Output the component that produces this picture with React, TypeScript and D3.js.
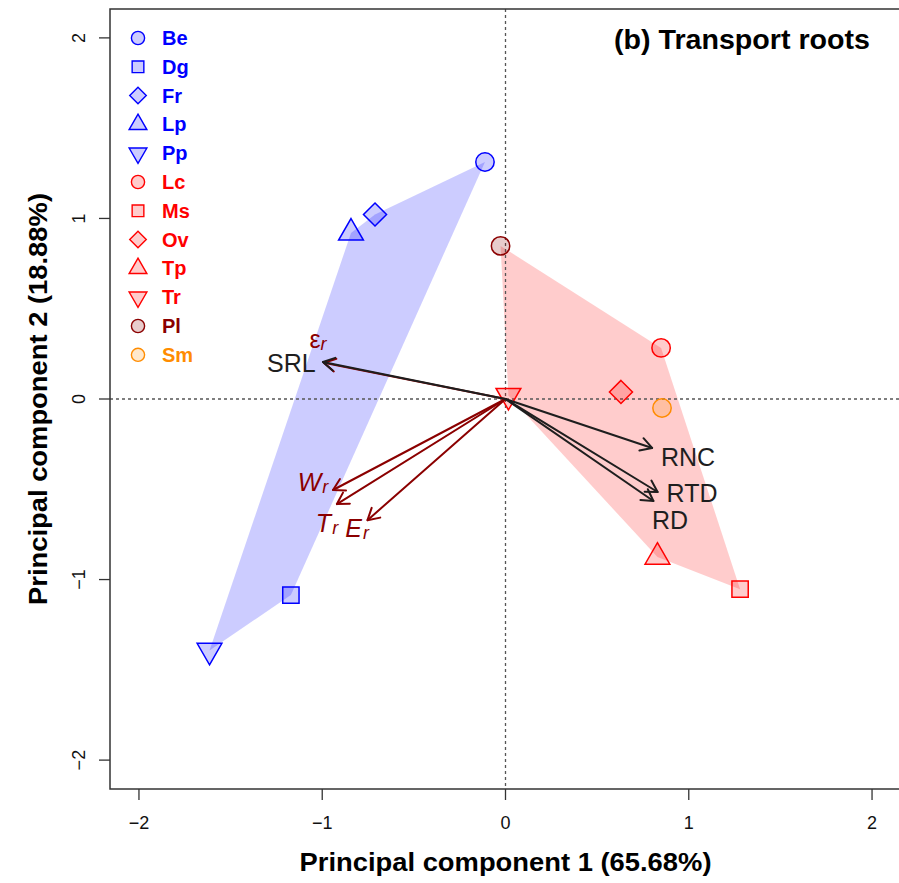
import React from "react";
import * as d3 from "d3";

// ---- Data ----
const species = ["Be", "Dg", "Fr", "Lp", "Pp", "Lc", "Ms", "Ov", "Tp", "Tr", "Pl", "Sm"];
const pc1 = [-0.112, -1.171, -0.712, -0.843, -1.615, 0.849, 1.28, 0.63, 0.829, 0.016, -0.027, 0.854];
const pc2 = [1.313, -1.086, 1.022, 0.92, -1.393, 0.283, -1.053, 0.039, -0.875, 0.019, 0.848, -0.05];
const shapes = ["circle", "square", "diamond", "triUp", "triDown", "circle", "square", "diamond", "triUp", "triDown", "circle", "circle"];
const speciesGroup = ["A", "A", "A", "A", "A", "B", "B", "B", "B", "B", "B", "B"];
const speciesColor = ["blue", "blue", "blue", "blue", "blue", "red", "red", "red", "red", "red", "darkred", "darkorange"];

const varNames = ["SRL", "eps", "RNC", "RTD", "RD", "W", "T", "E"];
const varLoadX = [-0.996, -0.99, 0.8, 0.83, 0.807, -0.941, -0.92, -0.753];
const varLoadY = [0.205, 0.2, -0.271, -0.515, -0.565, -0.504, -0.582, -0.671];
const varLabelX = [-1.168, -1.023, 0.996, 1.018, 0.898, -1.05, -0.974, -0.81];
const varLabelY = [0.199, 0.33, -0.321, -0.521, -0.67, -0.46, -0.687, -0.715];
const varKind = ["black", "red", "black", "black", "black", "red", "red", "red"];

const xTicks = [-2, -1, 0, 1, 2];
const yTicks = [-2, -1, 0, 1, 2];

const colorMap: Record<string, { stroke: string; fill: string }> = {
  blue: { stroke: "#0000ff", fill: "rgba(0,0,255,0.2)" },
  red: { stroke: "#ff0000", fill: "rgba(255,0,0,0.2)" },
  darkred: { stroke: "#8b0000", fill: "rgba(139,0,0,0.2)" },
  darkorange: { stroke: "#ff8c00", fill: "rgba(255,140,0,0.2)" },
};
const hullFill: Record<string, string> = { A: "rgba(0,0,255,0.2)", B: "rgba(255,0,0,0.2)" };

const FONT = "'Liberation Sans', Arial, Helvetica, sans-serif";

function markerPath(shape: string, cx: number, cy: number, s: number): string {
  const p = d3.path();
  if (shape === "circle") {
    p.moveTo(cx + s, cy);
    p.arc(cx, cy, s, 0, Math.PI * 2);
  } else if (shape === "square") {
    const h = s * 0.886;
    p.rect(cx - h, cy - h, 2 * h, 2 * h);
  } else if (shape === "diamond") {
    const h = s * 1.253;
    p.moveTo(cx, cy - h);
    p.lineTo(cx + h, cy);
    p.lineTo(cx, cy + h);
    p.lineTo(cx - h, cy);
    p.closePath();
  } else if (shape === "triUp") {
    const r = 1.5551 * s, xc = 1.3468 * s, yc = 0.7776 * s;
    p.moveTo(cx, cy - r);
    p.lineTo(cx + xc, cy + yc);
    p.lineTo(cx - xc, cy + yc);
    p.closePath();
  } else {
    const r = 1.5551 * s, xc = 1.3468 * s, yc = 0.7776 * s;
    p.moveTo(cx, cy + r);
    p.lineTo(cx + xc, cy - yc);
    p.lineTo(cx - xc, cy - yc);
    p.closePath();
  }
  return p.toString();
}

export default function App() {
  const W = 899, H = 883;
  const x = d3.scaleLinear().domain([-2.158, 2.158]).range([110, 901]);
  const y = d3.scaleLinear().domain([-2.16, 2.16]).range([789, 9]);

  const pts = species.map((s, i) => ({
    name: s, px: x(pc1[i]), py: y(pc2[i]), shape: shapes[i], group: speciesGroup[i], color: speciesColor[i],
  }));

  const hulls = ["A", "B"].map((g) => {
    const h = d3.polygonHull(pts.filter((p) => p.group === g).map((p) => [p.px, p.py] as [number, number]));
    return { g, d: h ? "M" + h.map((q) => q.join(",")).join("L") + "Z" : "" };
  });

  const ox = x(0), oy = y(0);
  const arrowColor = (k: string) => (k === "black" ? "#1e1e1e" : "#8b0000");
  const headLen = 13;
  const arrows = varNames.map((n, i) => {
    const tx = x(varLoadX[i]), ty = y(varLoadY[i]);
    const th = Math.atan2(ty - oy, tx - ox);
    const a1 = th + Math.PI / 6, a2 = th - Math.PI / 6;
    const head = `M${tx - headLen * Math.cos(a1)},${ty - headLen * Math.sin(a1)}L${tx},${ty}L${tx - headLen * Math.cos(a2)},${ty - headLen * Math.sin(a2)}`;
    return { n, i, tx, ty, head, color: arrowColor(varKind[i]) };
  });
  const arrowOrder = [...arrows].sort((a, b) => (varKind[a.i] === "red" ? 0 : 1) - (varKind[b.i] === "red" ? 0 : 1));

  const legendX = 138, legendTextX = 162, legendY0 = 38, legendDy = 28.8;

  const renderVarLabel = (i: number) => {
    const lx = x(varLabelX[i]), ly = y(varLabelY[i]);
    const n = varNames[i];
    if (varKind[i] === "black") {
      return (
        <text key={"vl" + i} x={lx} y={ly} textAnchor="middle" dominantBaseline="central" fontSize={25} fill="#1e1e1e" fontFamily={FONT}>
          {n}
        </text>
      );
    }
    const main = n === "eps" ? "ε" : n;
    return (
      <text key={"vl" + i} x={lx} y={ly} textAnchor="middle" dominantBaseline="central" fontSize={25} fill="#8b0000" fontFamily={FONT}>
        <tspan fontStyle={n === "eps" ? "normal" : "italic"}>{main}</tspan>
        <tspan fontSize={18} dy={5} dx={n === "eps" ? 0 : 1} fontStyle="italic">r</tspan>
      </text>
    );
  };

  return (
    <svg width={W} height={H} style={{ position: "absolute", left: 0, top: 0, background: "#fff" }} fontFamily={FONT}>
      <rect x={0} y={0} width={W} height={H} fill="#fff" />
      {hulls.map((h) => (
        <path key={h.g} d={h.d} fill={hullFill[h.g]} stroke="none" />
      ))}
      <line x1={x(-2.158)} x2={x(2.158)} y1={oy} y2={oy} stroke="#555" strokeWidth={1.3} strokeDasharray="3,3" />
      <line x1={ox} x2={ox} y1={y(2.16)} y2={y(-2.16)} stroke="#555" strokeWidth={1.3} strokeDasharray="3,3" />
      {pts.map((p) => (
        <path key={p.name} d={markerPath(p.shape, p.px, p.py, 9.2)} fill={colorMap[p.color].fill} stroke={colorMap[p.color].stroke} strokeWidth={1.5} />
      ))}
      {arrowOrder.map((a) => (
        <g key={"ar" + a.i} stroke={a.color} strokeWidth={2} fill="none" strokeLinecap="round" strokeLinejoin="round">
          <line x1={ox} y1={oy} x2={a.tx} y2={a.ty} />
          <path d={a.head} />
        </g>
      ))}
      {varNames.map((_, i) => renderVarLabel(i))}
      <rect x={x(-2.158)} y={y(2.16)} width={x(2.158) - x(-2.158)} height={y(-2.16) - y(2.16)} fill="none" stroke="#333" strokeWidth={1.5} />
      {xTicks.map((t) => (
        <g key={"xt" + t}>
          <line x1={x(t)} x2={x(t)} y1={789} y2={800} stroke="#333" strokeWidth={1.3} />
          <text x={x(t)} y={829} textAnchor="middle" fontSize={18} fill="#111">
            {t < 0 ? "\u2212" + Math.abs(t) : t}
          </text>
        </g>
      ))}
      {yTicks.map((t) => (
        <g key={"yt" + t}>
          <line x1={99} x2={110} y1={y(t)} y2={y(t)} stroke="#333" strokeWidth={1.3} />
          <text transform={`translate(85,${y(t)}) rotate(-90)`} textAnchor="middle" fontSize={18} fill="#111">
            {t < 0 ? "\u2212" + Math.abs(t) : t}
          </text>
        </g>
      ))}
      <text x={505.5} y={871} textAnchor="middle" fontSize={26} fontWeight="bold" fill="#000" textLength={412} lengthAdjust="spacingAndGlyphs">
        Principal component 1 (65.68%)
      </text>
      <text transform={`translate(47,399) rotate(-90)`} textAnchor="middle" fontSize={26} fontWeight="bold" fill="#000" textLength={412} lengthAdjust="spacingAndGlyphs">
        Principal component 2 (18.88%)
      </text>
      <text x={870} y={49} textAnchor="end" fontSize={27} fontWeight="bold" fill="#000" textLength={256} lengthAdjust="spacingAndGlyphs">
        (b) Transport roots
      </text>
      {species.map((s, i) => {
        const ly = legendY0 + i * legendDy;
        const c = colorMap[speciesColor[i]];
        return (
          <g key={"lg" + s}>
            <path d={markerPath(shapes[i], legendX, ly, 6.6)} fill={c.fill} stroke={c.stroke} strokeWidth={1.4} />
            <text x={legendTextX} y={ly} dominantBaseline="central" fontSize={20} fontWeight="bold" fill={c.stroke}>
              {s}
            </text>
          </g>
        );
      })}
    </svg>
  );
}
